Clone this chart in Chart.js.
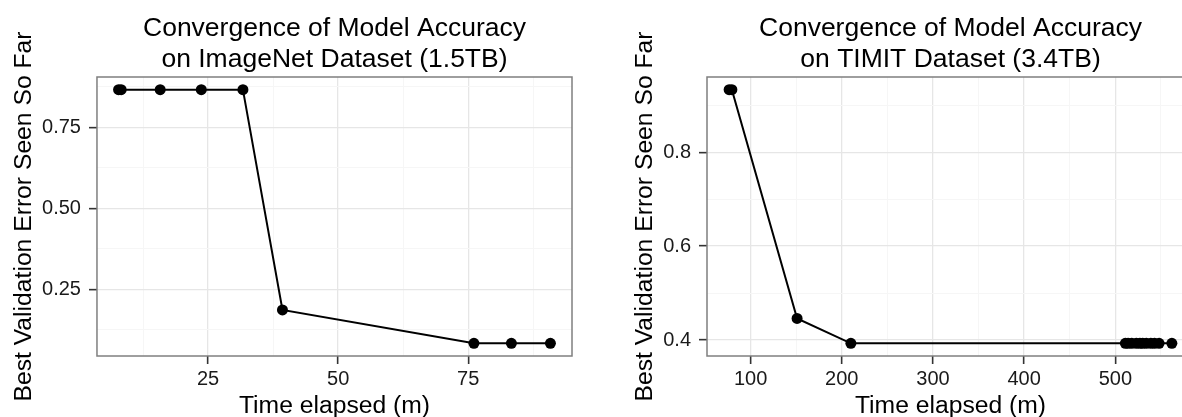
<!DOCTYPE html>
<html>
<head>
<meta charset="utf-8">
<title>Convergence of Model Accuracy</title>
<script src="https://cdn.jsdelivr.net/npm/chart.js@4.4.1/dist/chart.umd.min.js"></script>
<style>
  html, body { margin: 0; padding: 0; background: #fff; overflow: hidden; }
  #wrap { position: relative; width: 1182px; height: 417px; overflow: hidden; }
  canvas { position: absolute; top: 0; }
  #imagenet { left: 0; }
  #timit { left: 591px; }
</style>
</head>
<body>
<div id="wrap">
  <canvas id="imagenet" width="591" height="417"></canvas>
  <canvas id="timit" width="622" height="417"></canvas>
</div>
<script>
"use strict";

// ImageNet run (1.5TB): minutes elapsed vs best validation error so far
var imagenetMinutes = [7.8, 8.3, 15.8, 23.7, 31.7, 39.3, 76.1, 83.3, 90.8];
var imagenetError = [0.866, 0.866, 0.866, 0.866, 0.866, 0.186, 0.083, 0.083, 0.083];

// TIMIT run (3.4TB)
var timitMinutes = [76.5, 79.5, 151, 210, 511, 514, 518, 523, 527, 530, 534, 539, 543, 548, 562];
var timitError = [0.933, 0.933, 0.446, 0.393, 0.393, 0.393, 0.393, 0.393, 0.393, 0.393, 0.393, 0.393, 0.393, 0.393, 0.393];

// axis breaks (major ones get a label, minor ones only a faint grid line)
var imagenetXTicks = [25, 50, 75];
var imagenetXLabels = ["25", "50", "75"];
var imagenetXMinor = [12.5, 37.5, 62.5, 87.5];
var imagenetYTicks = [0.25, 0.5, 0.75];
var imagenetYLabels = ["0.25", "0.50", "0.75"];
var imagenetYMinor = [0.125, 0.375, 0.625, 0.875];

var timitXTicks = [100, 200, 300, 400, 500];
var timitXLabels = ["100", "200", "300", "400", "500"];
var timitXMinor = [150, 250, 350, 450, 550];
var timitYTicks = [0.4, 0.6, 0.8];
var timitYLabels = ["0.4", "0.6", "0.8"];
var timitYMinor = [0.5, 0.7, 0.9];

var FONT = "'Liberation Sans', Arial, Helvetica, sans-serif";
Chart.defaults.font.family = FONT;
Chart.defaults.color = '#000';

// 5% padding on each side of the data, like ggplot's default expansion
function padRange(values) {
    var lo = Math.min.apply(null, values);
    var hi = Math.max.apply(null, values);
    var pad = (hi - lo) * 0.05;
    return { min: lo - pad, max: hi + pad };
}

function makeScale(major, labels, minor, values, titleText, isX) {
    var range = padRange(values);
    var isMajor = function (c) {
        return c.tick && major.indexOf(c.tick.value) >= 0;
    };
    var scale = {
        type: 'linear',
        position: isX ? 'bottom' : 'left',
        min: range.min,
        max: range.max,
        bounds: 'data',
        afterBuildTicks: function (s) {
            s.ticks = major.concat(minor)
                .sort(function (a, b) { return a - b; })
                .map(function (v) { return { value: v }; });
        },
        ticks: {
            autoSkip: false,
            maxRotation: 0,
            color: '#1a1a1a',
            font: { size: 20 },
            padding: isX ? 3 : 8,
            callback: function (value) {
                var i = major.indexOf(value);
                return i < 0 ? '' : labels[i];
            }
        },
        grid: {
            color: function (c) { return isMajor(c) ? '#e6e6e6' : '#f6f6f6'; },
            lineWidth: function (c) { return isMajor(c) ? 1.3 : 1; },
            tickColor: function (c) { return isMajor(c) ? '#333' : 'rgba(0,0,0,0)'; },
            tickLength: 8,
            tickWidth: 1.6
        },
        border: { display: false },
        title: {
            display: true,
            text: titleText,
            color: '#000',
            font: { size: 24.7, lineHeight: isX ? '22.2px' : '17.3px' },
            padding: isX ? { top: 0, bottom: 0 } : { top: 15.75, bottom: 1 }
        }
    };
    if (isX) {
        scale.afterFit = function (s) { s.height = 61; };
    }
    return scale;
}

// grey frame round the plotting panel
var panelBorder = {
    id: 'panelBorder',
    afterDraw: function (chart) {
        var a = chart.chartArea;
        var ctx = chart.ctx;
        ctx.save();
        ctx.strokeStyle = '#7f7f7f';
        ctx.lineWidth = 1.5;
        ctx.strokeRect(a.left, a.top, a.right - a.left, a.bottom - a.top);
        ctx.restore();
    }
};

function drawPanel(canvasId, minutes, error, titleLines, xT, xL, xM, yT, yL, yM, padLeft) {
    var points = minutes.map(function (m, i) { return { x: m, y: error[i] }; });
    return new Chart(document.getElementById(canvasId), {
        type: 'line',
        data: {
            datasets: [{
                data: points,
                borderColor: '#000',
                backgroundColor: '#000',
                borderWidth: 2,
                tension: 0,
                pointRadius: 5.5,
                pointBorderWidth: 0,
                pointBackgroundColor: '#000'
            }]
        },
        options: {
            responsive: false,
            animation: false,
            layout: { padding: { left: padLeft, right: 19, top: 0, bottom: 0 } },
            plugins: {
                legend: { display: false },
                tooltip: { enabled: false },
                title: {
                    display: true,
                    fullSize: false,
                    text: titleLines,
                    color: '#000',
                    font: { size: 26.5, weight: 'normal', lineHeight: '31px' },
                    padding: { top: 13.3, bottom: 1.7 }
                }
            },
            scales: {
                x: makeScale(xT, xL, xM, minutes, 'Time elapsed (m)', true),
                y: makeScale(yT, yL, yM, error, 'Best Validation Error Seen So Far', false)
            }
        },
        plugins: [panelBorder]
    });
}

drawPanel('imagenet', imagenetMinutes, imagenetError,
    ['Convergence of Model Accuracy', 'on ImageNet Dataset (1.5TB)'],
    imagenetXTicks, imagenetXLabels, imagenetXMinor,
    imagenetYTicks, imagenetYLabels, imagenetYMinor, 0);

drawPanel('timit', timitMinutes, timitError,
    ['Convergence of Model Accuracy', 'on TIMIT Dataset (3.4TB)'],
    timitXTicks, timitXLabels, timitXMinor,
    timitYTicks, timitYLabels, timitYMinor, 30.15);
</script>
</body>
</html>
